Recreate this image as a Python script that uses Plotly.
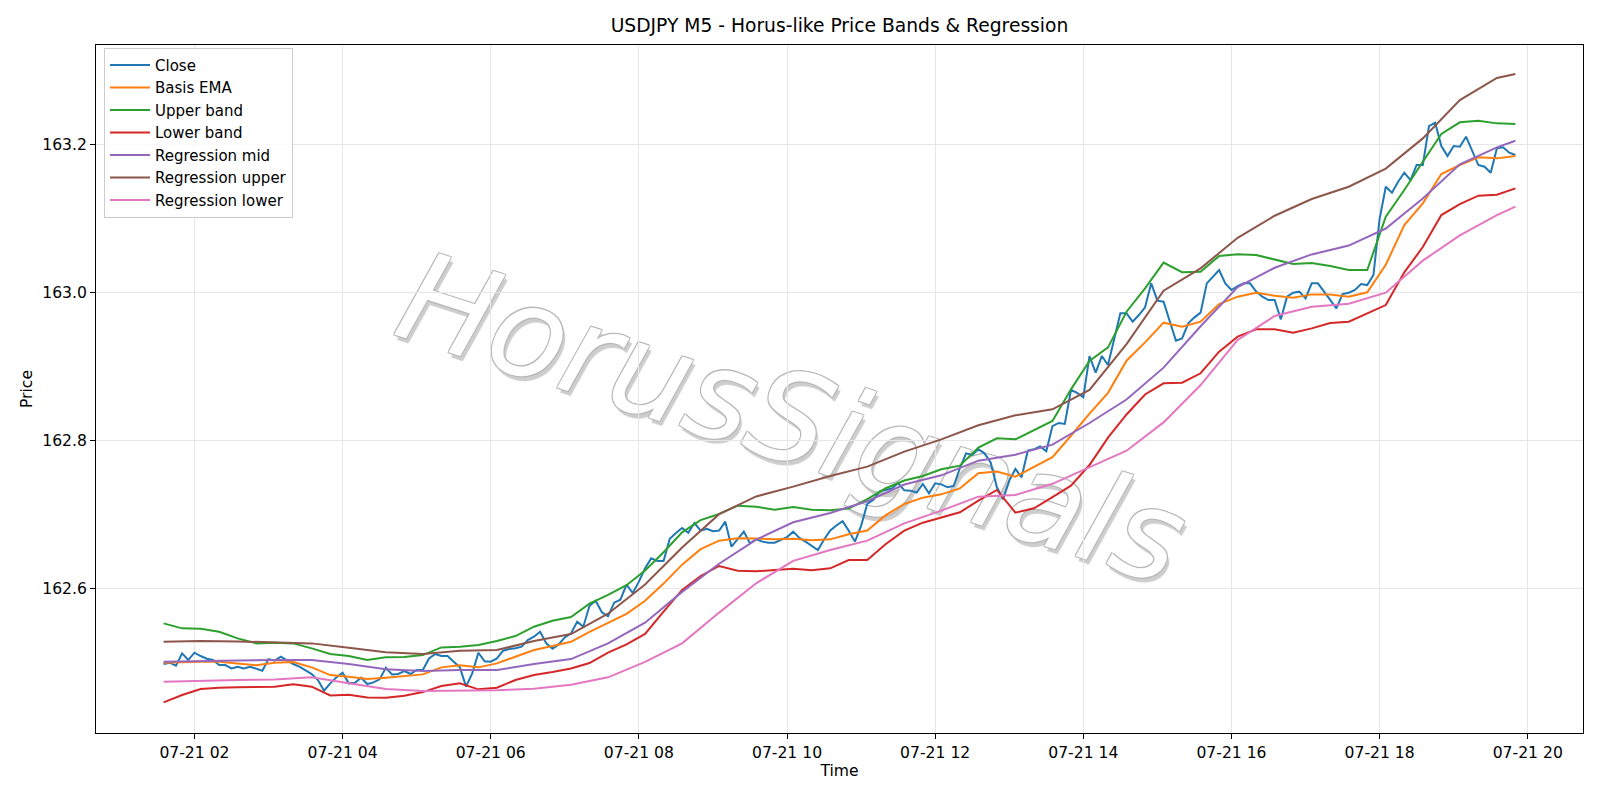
import pandas as pd
import plotly.graph_objects as go

# ---------------- data ----------------
close = [
    162.4985, 162.5003, 162.4962, 162.5129, 162.5039, 162.5138, 162.5093, 162.5057, 162.5039, 162.4971,
    162.4971, 162.4926, 162.4949, 162.4926, 162.4949, 162.4926, 162.4895, 162.5052, 162.5030, 162.5084,
    162.5030, 162.4985, 162.4949, 162.4904, 162.4850, 162.4769, 162.4625, 162.4724, 162.4805, 162.4868,
    162.4724, 162.4733, 162.4800, 162.4715, 162.4737, 162.4778, 162.4935, 162.4845, 162.4850, 162.4890,
    162.4850, 162.4904, 162.4904, 162.5061, 162.5120, 162.5093, 162.5093, 162.5016, 162.4940, 162.4679,
    162.4859, 162.5138, 162.5021, 162.5016, 162.5061, 162.5165, 162.5188, 162.5197, 162.5219, 162.5309,
    162.5354, 162.5422, 162.5264, 162.5192, 162.5250, 162.5345, 162.5399, 162.5555, 162.5490, 162.5772,
    162.5841, 162.5685, 162.5630, 162.5814, 162.5855, 162.6057, 162.5945, 162.6098, 162.6278, 162.6413,
    162.6377, 162.6377, 162.6677, 162.6755, 162.6823, 162.6760, 162.6890, 162.6787, 162.6812, 162.6780,
    162.6790, 162.6909, 162.6571, 162.6672, 162.6774, 162.6616, 162.6670, 162.6639, 162.6625, 162.6625,
    162.6665, 162.6700, 162.6774, 162.6690, 162.6639, 162.6582, 162.6526, 162.6668, 162.6790, 162.6857,
    162.6915, 162.6787, 162.6639, 162.6852, 162.7150, 162.7206, 162.7319, 162.7337, 162.7359, 162.7431,
    162.7332, 162.7328, 162.7303, 162.7418, 162.7292, 162.7427, 162.7413, 162.7373, 162.7391, 162.7630,
    162.7832, 162.7810, 162.7886, 162.7832, 162.7706, 162.7373, 162.7211, 162.7463, 162.7621, 162.7508,
    162.7868, 162.7886, 162.7925, 162.7860, 162.8200, 162.8243, 162.8230, 162.8688, 162.8648, 162.8590,
    162.9147, 162.8922, 162.9147, 162.9026, 162.9386, 162.9724, 162.9724, 162.9611, 162.9701, 162.9805,
    163.0129, 162.9895, 162.9882, 162.9625, 162.9355, 162.9386, 162.9589, 162.9670, 162.9733, 163.0129,
    163.0219, 163.0309, 163.0129, 163.0039, 163.0093, 163.0129, 163.0129, 163.0017, 162.9949, 162.9904,
    162.9904, 162.9643, 162.9949, 163.0003, 163.0017, 162.9926, 163.0129, 163.0129, 163.0017, 162.9904,
    162.9791, 162.9985, 163.0003, 163.0039, 163.0120, 163.0106, 163.0242, 163.1000, 163.1435, 163.1354,
    163.1503, 163.1624, 163.1525, 163.1728, 163.1728, 163.2255, 163.2300, 163.1985, 163.1850, 163.1985,
    163.1976, 163.2111, 163.1931, 163.1728, 163.1705, 163.1624, 163.1954, 163.1967, 163.1895, 163.1864,
]

# bands sampled every 3rd bar (15 min)
basis_ema = [
    162.5003, 162.5012, 162.5016, 162.5016, 162.4994, 162.4967, 162.5003, 162.5012, 162.4940, 162.4836,
    162.4814, 162.4782, 162.4800, 162.4823, 162.4845, 162.4940, 162.4967, 162.4940, 162.4994, 162.5084,
    162.5174, 162.5228, 162.5285, 162.5420, 162.5546, 162.5663, 162.5840, 162.6072, 162.6328, 162.6537,
    162.6652, 162.6685, 162.6680, 162.6670, 162.6679, 162.6656, 162.6670, 162.6738, 162.6790, 162.6997,
    162.7148, 162.7233, 162.7278, 162.7359, 162.7562, 162.7585, 162.7517, 162.7650, 162.7780, 162.8070,
    162.8370, 162.8650, 162.9084, 162.9332, 162.9598, 162.9544, 162.9611, 162.9850, 162.9949, 163.0003,
    162.9962, 162.9935, 162.9980, 162.9980, 162.9949, 163.0008, 163.0380, 163.0917, 163.1210, 163.1606,
    163.1728, 163.1832, 163.1818, 163.1850,
]
upper_band = [
    162.5534, 162.5467, 162.5462, 162.5422, 162.5332, 162.5264, 162.5273, 162.5264, 162.5197, 162.5120,
    162.5093, 162.5039, 162.5075, 162.5079, 162.5106, 162.5210, 162.5219, 162.5242, 162.5296, 162.5363,
    162.5489, 162.5570, 162.5620, 162.5800, 162.5920, 162.6050, 162.6250, 162.6495, 162.6765, 162.6930,
    162.7013, 162.7125, 162.7110, 162.7070, 162.7108, 162.7070, 162.7062, 162.7087, 162.7213, 162.7360,
    162.7465, 162.7526, 162.7616, 162.7666, 162.7909, 162.8035, 162.8021, 162.8140, 162.8270, 162.8697,
    162.9080, 162.9264, 162.9746, 163.0062, 163.0409, 163.0280, 163.0287, 163.0500, 163.0521, 163.0512,
    163.0454, 163.0391, 163.0405, 163.0364, 163.0309, 163.0310, 163.1030, 163.1390, 163.1773, 163.2147,
    163.2305, 163.2327, 163.2291, 163.2282,
]
lower_band = [
    162.4467, 162.4566, 162.4647, 162.4665, 162.4670, 162.4674, 162.4679, 162.4710, 162.4679, 162.4561,
    162.4570, 162.4534, 162.4530, 162.4557, 162.4606, 162.4688, 162.4724, 162.4643, 162.4665, 162.4769,
    162.4836, 162.4877, 162.4925, 162.4998, 162.5138, 162.5250, 162.5391, 162.5693, 162.5986, 162.6175,
    162.6310, 162.6247, 162.6238, 162.6256, 162.6274, 162.6251, 162.6278, 162.6391, 162.6391, 162.6607,
    162.6787, 162.6895, 162.6967, 162.7035, 162.7193, 162.7337, 162.7031, 162.7089, 162.7240, 162.7395,
    162.7674, 162.8044, 162.8357, 162.8627, 162.8778, 162.8787, 162.8914, 162.9206, 162.9409, 162.9508,
    162.9508, 162.9463, 162.9521, 162.9593, 162.9611, 162.9724, 162.9836, 163.0278, 163.0620, 163.1052,
    163.1201, 163.1314, 163.1327, 163.1413,
]

# regression lines sampled every 6th bar (30 min) plus the last bar
reg_mid = [
    162.5016, 162.5030, 162.5034, 162.5039, 162.5039, 162.4985, 162.4913, 162.4890, 162.4904, 162.4904,
    162.4985, 162.5052, 162.5265, 162.5544, 162.5960, 162.6340, 162.6665, 162.6900, 162.7027, 162.7185,
    162.7410, 162.7535, 162.7733, 162.7814, 162.7950, 162.8242, 162.8560, 162.8990, 162.9550, 163.0080,
    163.0340, 163.0520, 163.0640, 163.0870, 163.1277, 163.1737, 163.1967, 163.2057,
]
reg_upper = [
    162.5287, 162.5296, 162.5291, 162.5278, 162.5264, 162.5206, 162.5143, 162.5120, 162.5165, 162.5174,
    162.5295, 162.5390, 162.5665, 162.6060, 162.6560, 162.7010, 162.7250, 162.7382, 162.7526, 162.7652,
    162.7855, 162.8021, 162.8211, 162.8346, 162.8427, 162.8688, 162.9309, 163.0030, 163.0332, 163.0745,
    163.1043, 163.1269, 163.1435, 163.1680, 163.2088, 163.2606, 163.2904, 163.2958,
]
reg_lower = [
    162.4746, 162.4760, 162.4769, 162.4775, 162.4805, 162.4724, 162.4647, 162.4620, 162.4620, 162.4629,
    162.4652, 162.4704, 162.4805, 162.5013, 162.5265, 162.5680, 162.6076, 162.6380, 162.6525, 162.6652,
    162.6886, 162.7058, 162.7247, 162.7270, 162.7420, 162.7643, 162.7868, 162.8250, 162.8755, 162.9364,
    162.9688, 162.9814, 162.9855, 163.0003, 163.0436, 163.0778, 163.1052, 163.1165,
]

price_ticks = [162.6, 162.8, 163.0, 163.2]
series_names = ["Close", "Basis EMA", "Upper band", "Lower band",
                "Regression mid", "Regression upper", "Regression lower"]
colors = ["#1f77b4", "#ff7f0e", "#2ca02c", "#d62728", "#9467bd", "#8c564b", "#e377c2"]

times = pd.date_range("2025-07-21 01:35", periods=len(close), freq="5min")
band_times = times[::3]
reg_times = list(times[::6]) + [times[-1]]

xs = [times, band_times, band_times, band_times, reg_times, reg_times, reg_times]
ys = [close, basis_ema, upper_band, lower_band, reg_mid, reg_upper, reg_lower]

FONT = "DejaVu Sans"
FS = 15.6
fig = go.Figure()
for name, x, y, c in zip(series_names, xs, ys, colors):
    fig.add_trace(go.Scatter(x=x, y=y, mode="lines", name=name,
                             line=dict(color=c, width=2)))

# watermark drawn underneath the data lines
wm_label = dict(text="HorusSignals", textangle=18, textposition="middle center",
                font=dict(family=FONT, size=125, color="#ffffff", style="italic",
                          shadow="-1px -1px 0 #b8b8b8, 1px -1px 0 #b8b8b8, -1px 1px 0 #b8b8b8, "
                                 "1px 1px 0 #b8b8b8, 4px 4px 1px #cdcdcd"))
fig.add_shape(type="rect", xref="paper", yref="paper", x0=0.37, x1=0.57, y0=0.42, y1=0.52,
              line=dict(width=0), fillcolor="rgba(0,0,0,0)", layer="between", label=wm_label)

axis_common = dict(showline=True, linecolor="black", linewidth=1, mirror=True,
                   ticks="outside", ticklen=5, tickwidth=1, tickcolor="black",
                   showgrid=True, gridcolor="#e6e6e6", gridwidth=1, zeroline=False,
                   tickfont=dict(family=FONT, size=FS, color="black"))

fig.update_layout(
    width=1600, height=800,
    margin=dict(l=96, r=17, t=45, b=67),
    paper_bgcolor="white", plot_bgcolor="white",
    font=dict(family=FONT, size=FS, color="black"),
    title=dict(text="USDJPY M5 - Horus-like Price Bands & Regression",
               font=dict(family=FONT, size=18.7, color="black"),
               x=0.5, xref="paper", xanchor="center",
               y=1 - 25.5 / 800, yref="container", yanchor="middle"),
    xaxis=dict(axis_common, type="date",
               range=["2025-07-21 00:40:15", "2025-07-21 20:44:45"],
               tick0="2025-07-21 00:00", dtick=7200000, tickformat="%m-%d %H",
               title=dict(text="Time", font=dict(family=FONT, size=FS), standoff=4)),
    yaxis=dict(axis_common, range=[162.4053, 163.335], tickmode="array",
               tickvals=price_ticks, ticktext=[f"{v:.1f}" for v in price_ticks],
               title=dict(text="Price", font=dict(family=FONT, size=FS), standoff=5)),
    legend=dict(x=0.0054, y=0.996, xanchor="left", yanchor="top",
                bgcolor="rgba(255,255,255,0.8)", bordercolor="#cccccc", borderwidth=1,
                font=dict(family=FONT, size=15, color="black"), itemwidth=40),
    showlegend=True,
)

fig.write_html("out.html")
